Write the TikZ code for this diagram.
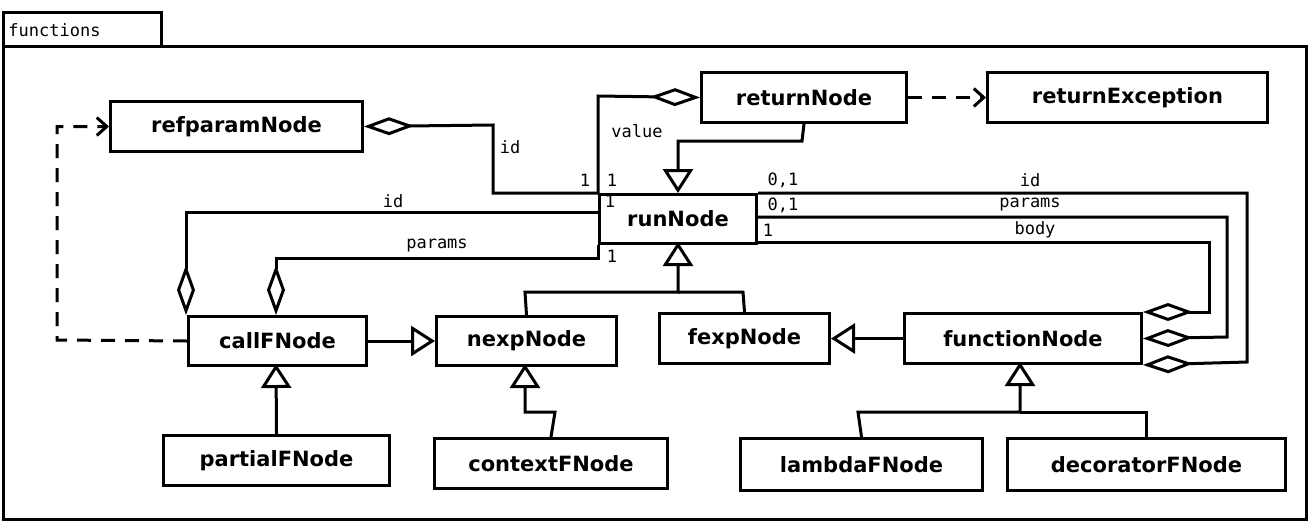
\documentclass[tikz,border=0pt]{standalone}
\usepackage{fontspec}
\setmainfont{DejaVu Sans}
\newfontfamily\monof{DejaVu Sans Mono}
\usetikzlibrary{arrows.meta}
\begin{document}
\begin{tikzpicture}[x=1pt,y=-1pt,line width=3pt,
  cls/.style={draw,font=\fontsize{21}{24}\selectfont\bfseries,inner sep=0pt,anchor=north west},
  lbl/.style={font=\monof\fontsize{17}{19}\selectfont,inner sep=0pt},
  agg/.style={{Diamond[open,length=50pt,width=18pt,line width=3pt]}-},
  gen/.style={-{Triangle[open,length=24pt,width=30pt,line width=3pt]}},
  dep/.style={dashed,dash pattern=on 14pt off 10pt,-{Straight Barb[length=10pt,width=18pt,line width=3pt]}}]
\useasboundingbox (0,0) rectangle (1311,531);
\draw (3,12) rectangle (161,46);
\node[lbl,anchor=west] (ftab) at (7,30) {functions};
\draw (3,46) rectangle (1306,519);
\node[cls,minimum width=252,minimum height=50] (ref) at (109,100) {refparamNode};
\node[cls,minimum width=205,minimum height=50] (ret) at (700,71) {returnNode};
\node[cls,minimum width=280,minimum height=50] (rex) at (986,71) {returnException};
\node[cls,minimum width=157,minimum height=49] (run) at (598,193) {runNode};
\node[cls,minimum width=178,minimum height=49] (call) at (187,315) {callFNode};
\node[cls,minimum width=180,minimum height=49] (nexp) at (435,315) {nexpNode};
\node[cls,minimum width=170,minimum height=50] (fexp) at (658,312) {fexpNode};
\node[cls,minimum width=237,minimum height=50] (fun) at (903,312) {functionNode};
\node[cls,minimum width=226,minimum height=50] (part) at (162,434) {partialFNode};
\node[cls,minimum width=233,minimum height=50] (ctx) at (433,437) {contextFNode};
\node[cls,minimum width=242,minimum height=52] (lam) at (739,437) {lambdaFNode};
\node[cls,minimum width=278,minimum height=52] (dec) at (1006,437) {decoratorFNode};
% associations
\draw[agg] (ref.east) -- (493,125) |- (run.north west);
\draw[agg] (ret.west) -- (598,96) -- (run.north west);
\draw[agg] (call.north west) ++(-1,0) coordinate (c1) (c1) -- (186,212) -- (598,212);
\draw[agg] (276,315) -- (276,258) -- (598,258) -- (run.south west);
\draw[agg] (fun.north east) -- (1209,312) |- (755,242);
\draw[agg] (fun.east) -- (1227,337) |- (755,217);
\draw[agg] (fun.south east) -- (1247,362) |- (run.north east);
% labels
\node[lbl] (l1) at (510,147) {id};
\node[lbl] (l2) at (585,180) {1};
\node[lbl] (l3) at (612,180) {1};
\node[lbl] (l4) at (637,131) {value};
\node[lbl] (l5) at (393,201) {id};
\node[lbl] (l6) at (610,201) {1};
\node[lbl] (l7) at (437,246) {params};
\node[lbl] (l8) at (612,256) {1};
\node[lbl] (l9) at (783,180) {0,1};
\node[lbl] (l10) at (1030,180) {id};
\node[lbl] (l11) at (783,205) {0,1};
\node[lbl] (l12) at (1030,205) {params};
\node[lbl] (l13) at (768,230) {1};
\node[lbl] (l14) at (1035,230) {body};
% generalizations
\draw[gen] (ret.south) ++(0,0) -- (802,141) -- (678,141) -- (678,193);
\draw[gen] (call.east) -- (nexp.west);
\draw[gen] (nexp.north) -- (525,292) -- (678,292) -- (678,242);
\draw (fexp.north) -- (743,292) -- (678,292);
\draw[gen] (fun.west) -- (fexp.east);
\draw[gen] (part.north) -- (276,364);
\draw[gen] (ctx.north) -- (555,412) -- (525,412) -- (525,364);
\draw[gen] (lam.north) -- (858,412) -- (1020,412) -- (1020,362);
\draw (dec.north) |- (1020,412);
% dependencies
\draw[dep] (ret.east) -- (rex.west);
\draw[dep] (call.west) -- (57,340) |- (ref.west);
\end{tikzpicture}
\end{document}
